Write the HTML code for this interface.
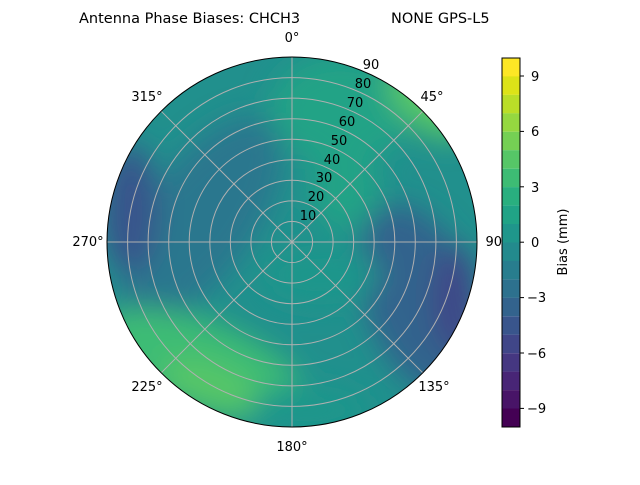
<!DOCTYPE html>
<html><head><style>
body{margin:0;background:#fff;}
svg text{font-family:"DejaVu Sans","Liberation Sans",sans-serif;font-size:13px;fill:#000;}
</style></head><body>
<svg width="640" height="480" viewBox="0 0 640 480">
<defs>
<clipPath id="c"><circle cx="292" cy="242" r="185"/></clipPath>
<filter id="b" x="-50%" y="-50%" width="200%" height="200%"><feGaussianBlur stdDeviation="14"/></filter>
<filter id="b2" x="-50%" y="-50%" width="200%" height="200%"><feGaussianBlur stdDeviation="7"/></filter>
</defs>
<text x="79" y="23" style="font-size:14.5px">Antenna Phase Biases: CHCH3</text>
<text x="391" y="23" style="font-size:14.5px">NONE GPS-L5</text>
<g clip-path="url(#c)">
<rect x="100" y="50" width="390" height="390" fill="#21908d"/>
<g filter="url(#b)">
<ellipse cx="340" cy="110" rx="70" ry="55" fill="#20a386"/>
<ellipse cx="200" cy="220" rx="55" ry="120" fill="#2a778e" transform="rotate(35 200 220)"/>
<ellipse cx="130" cy="210" rx="28" ry="65" fill="#39558c"/>
<ellipse cx="420" cy="300" rx="55" ry="100" fill="#33638d" transform="rotate(-20 420 300)"/>
<ellipse cx="455" cy="300" rx="22" ry="55" fill="#404688"/>
<ellipse cx="345" cy="190" rx="35" ry="40" fill="#20a386"/>
<ellipse cx="200" cy="365" rx="110" ry="45" fill="#3dbc74" transform="rotate(20 200 365)"/>
<ellipse cx="210" cy="385" rx="50" ry="22" fill="#56c667" transform="rotate(20 210 385)"/>
<ellipse cx="310" cy="410" rx="60" ry="25" fill="#1f968b"/>
<ellipse cx="430" cy="100" rx="50" ry="30" fill="#56c667" transform="rotate(40 430 100)"/>
<ellipse cx="320" cy="275" rx="60" ry="30" fill="#1f968b"/>
</g>
<ellipse cx="440" cy="100" rx="40" ry="12" fill="#75d054" transform="rotate(40 440 100)" filter="url(#b2)"/>
</g>
<g stroke="#b0b0b0" stroke-width="1" fill="none">
<circle cx="292" cy="242" r="20.6"/><circle cx="292" cy="242" r="41.1"/><circle cx="292" cy="242" r="61.7"/>
<circle cx="292" cy="242" r="82.2"/><circle cx="292" cy="242" r="102.8"/><circle cx="292" cy="242" r="123.3"/>
<circle cx="292" cy="242" r="143.9"/><circle cx="292" cy="242" r="164.4"/>
<line x1="292" y1="57" x2="292" y2="427"/><line x1="107" y1="242" x2="477" y2="242"/>
<line x1="161.2" y1="111.2" x2="422.8" y2="372.8"/><line x1="161.2" y1="372.8" x2="422.8" y2="111.2"/>
</g>
<circle cx="292" cy="242" r="185" fill="none" stroke="#000" stroke-width="1"/>
<g text-anchor="middle">
<text x="292" y="42">0°</text><text x="432" y="101">45°</text><text x="497" y="246">90°</text>
<text x="434" y="391">135°</text><text x="292" y="451">180°</text><text x="147" y="391">225°</text>
<text x="88" y="246">270°</text><text x="147" y="101">315°</text>
<text x="308" y="220">10</text><text x="316" y="201">20</text><text x="324" y="182">30</text>
<text x="332" y="164">40</text><text x="339" y="145">50</text><text x="347" y="126">60</text>
<text x="355" y="107">70</text><text x="363" y="88">80</text><text x="371" y="69">90</text>
</g>
<g>
<rect x="502" y="58" width="18" height="18.5" fill="#fde725"/>
<rect x="502" y="76.4" width="18" height="18.5" fill="#dde318"/>
<rect x="502" y="94.9" width="18" height="18.5" fill="#bade28"/>
<rect x="502" y="113.3" width="18" height="18.5" fill="#95d840"/>
<rect x="502" y="131.8" width="18" height="18.5" fill="#75d054"/>
<rect x="502" y="150.2" width="18" height="18.5" fill="#56c667"/>
<rect x="502" y="168.7" width="18" height="18.5" fill="#3dbc74"/>
<rect x="502" y="187.1" width="18" height="18.5" fill="#29af7f"/>
<rect x="502" y="205.6" width="18" height="18.5" fill="#20a386"/>
<rect x="502" y="224" width="18" height="18.5" fill="#1f968b"/>
<rect x="502" y="242.5" width="18" height="18.5" fill="#238a8d"/>
<rect x="502" y="260.9" width="18" height="18.5" fill="#287d8e"/>
<rect x="502" y="279.4" width="18" height="18.5" fill="#2d718e"/>
<rect x="502" y="297.8" width="18" height="18.5" fill="#33638d"/>
<rect x="502" y="316.3" width="18" height="18.5" fill="#39558c"/>
<rect x="502" y="334.7" width="18" height="18.5" fill="#404688"/>
<rect x="502" y="353.2" width="18" height="18.5" fill="#453781"/>
<rect x="502" y="371.6" width="18" height="18.5" fill="#482576"/>
<rect x="502" y="390.1" width="18" height="18.5" fill="#481467"/>
<rect x="502" y="408.5" width="18" height="18.5" fill="#440154"/>
<rect x="502" y="58" width="18" height="369" fill="none" stroke="#000" stroke-width="1"/>
<g stroke="#000"><line x1="520" y1="76" x2="524" y2="76"/><line x1="520" y1="131.4" x2="524" y2="131.4"/><line x1="520" y1="186.8" x2="524" y2="186.8"/><line x1="520" y1="242.2" x2="524" y2="242.2"/><line x1="520" y1="297.6" x2="524" y2="297.6"/><line x1="520" y1="353" x2="524" y2="353"/><line x1="520" y1="408.4" x2="524" y2="408.4"/></g>
<text x="531" y="81">9</text><text x="531" y="136">6</text><text x="531" y="192">3</text><text x="531" y="247">0</text>
<text x="527" y="302">−3</text><text x="527" y="358">−6</text><text x="527" y="413">−9</text>
<text transform="translate(567 242) rotate(-90)" text-anchor="middle">Bias (mm)</text>
</g>
</svg>
</body></html>
